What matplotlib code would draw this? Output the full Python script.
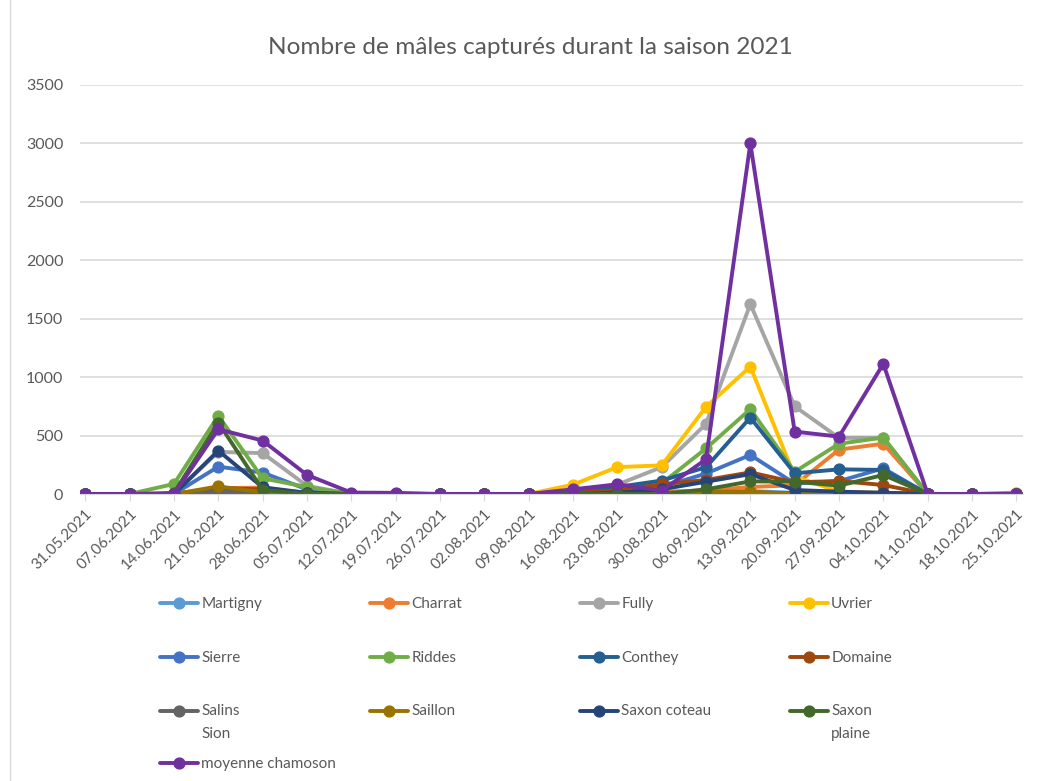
import numpy as np
import matplotlib
matplotlib.use('Agg')
import matplotlib.pyplot as plt

plt.rcParams['font.family'] = ['Lato', 'DejaVu Sans']

dates = ['31.05.2021', '07.06.2021', '14.06.2021', '21.06.2021', '28.06.2021', '05.07.2021',
         '12.07.2021', '19.07.2021', '26.07.2021', '02.08.2021', '09.08.2021', '16.08.2021',
         '23.08.2021', '30.08.2021', '06.09.2021', '13.09.2021', '20.09.2021', '27.09.2021',
         '04.10.2021', '11.10.2021', '18.10.2021', '25.10.2021']

martigny = [0, 0, 0, 12, 8, 2, 0, 0, 0, 0, 0, 0, 0, 5, 15, 25, 10, 5, 10, 0, 0, 0]
charrat = [0, 0, 0, 50, 55, 5, 0, 0, 0, 0, 0, 5, 10, 20, 30, 60, 75, 380, 430, 0, 0, 12]
fully = [0, 0, 0, 360, 350, 70, 0, 0, 0, 0, 0, 30, 80, 230, 600, 1625, 750, 480, 480, 0, 0, 0]
uvrier = [0, 0, 0, 0, 0, 0, 0, 0, 0, 0, 0, 80, 230, 245, 745, 1090, 150, 20, 10, 0, 0, 0]
sierre = [0, 0, 0, 234, 183, 40, 0, 0, 0, 0, 0, 5, 20, 60, 175, 334, 90, 110, 220, 0, 0, 0]
riddes = [0, 0, 86, 669, 134, 60, 0, 0, 0, 0, 0, 10, 40, 90, 390, 726, 190, 430, 483, 0, 0, 0]
conthey = [0, 0, 0, 20, 15, 5, 0, 0, 0, 0, 0, 15, 60, 115, 229, 654, 177, 211, 206, 0, 0, 0]
domaine = [0, 0, 0, 50, 40, 5, 0, 0, 0, 0, 0, 10, 30, 83, 120, 185, 100, 111, 77, 0, 0, 0]
salins_sion = [0, 0, 0, 20, 10, 0, 0, 0, 0, 0, 0, 0, 0, 5, 10, 15, 5, 5, 5, 0, 0, 0]
saillon = [0, 0, 0, 65, 15, 2, 0, 0, 0, 0, 0, 0, 0, 10, 20, 20, 0, 10, 5, 0, 0, 0]
saxon_coteau = [0, 0, 0, 371, 57, 10, 0, 0, 0, 0, 0, 0, 10, 40, 105, 170, 34, 20, 11, 0, 0, 0]
saxon_plaine = [0, 0, 10, 611, 34, 0, 0, 0, 0, 0, 0, 0, 0, 0, 40, 108, 106, 71, 163, 0, 0, 0]
chamoson = [0, 0, 0, 554, 457, 163, 12, 10, 0, 0, 0, 40, 83, 29, 297, 3000, 534, 491, 1114, 0, 0, 0]

series = [('Martigny', martigny, '#5B9BD5'),
          ('Charrat', charrat, '#ED7D31'),
          ('Fully', fully, '#A5A5A5'),
          ('Uvrier', uvrier, '#FFC000'),
          ('Sierre', sierre, '#4472C4'),
          ('Riddes', riddes, '#70AD47'),
          ('Conthey', conthey, '#255E91'),
          ('Domaine', domaine, '#9E480E'),
          ('Salins\nSion', salins_sion, '#636363'),
          ('Saillon', saillon, '#997300'),
          ('Saxon coteau', saxon_coteau, '#264478'),
          ('Saxon\nplaine', saxon_plaine, '#43682B'),
          ('moyenne chamoson', chamoson, '#7030A0')]

W, H = 1041, 781
fig = plt.figure(figsize=(W / 100, H / 100), dpi=100)
ax = fig.add_axes([80 / W, 1 - 494 / H, (1023 - 80) / W, (494 - 85) / H])

x = np.arange(len(dates))
handles = []
for name, vals, col in series:
    h, = ax.plot(x, vals, color=col, lw=2.8, marker='o', ms=7.8, label=name,
                 solid_joinstyle='round', solid_capstyle='round')
    handles.append(h)

ax.set_ylim(0, 3500)
ax.set_yticks(np.arange(0, 3501, 500))
ax.set_xlim(-0.12, len(dates) - 1 + 0.15)
ax.set_xticks(x)
ax.set_xticklabels(dates, rotation=45, ha='right', va='top', rotation_mode='anchor')
ax.tick_params(axis='y', length=0, pad=12, labelsize=11.5, labelcolor='#595959')
ax.tick_params(axis='x', length=5, color='#D9D9D9', pad=4, labelsize=11, labelcolor='#595959')
ax.grid(axis='y', color='#D9D9D9', lw=1.2)
ax.set_axisbelow(True)
for s in ['top', 'right', 'left']:
    ax.spines[s].set_visible(False)
ax.spines['bottom'].set_color('#D9D9D9')

fig.text(530 / W, 1 - 47 / H, 'Nombre de mâles capturés durant la saison 2021',
         ha='center', va='center', fontsize=17.6, color='#595959')

# bordure gauche de la zone graphique
fig.add_artist(plt.Line2D([10 / W, 10 / W], [0, 1], color='#D9D9D9', lw=1, transform=fig.transFigure))

# légende: 4 colonnes + moyenne chamoson sur une ligne à part
cols = [[0, 4, 8], [1, 5, 9], [2, 6, 10], [3, 7, 11], [12]]
xs = [160, 370, 580, 790, 160]
ys = [597, 597, 597, 597, 757]
for idx, xp, yp in zip(cols, xs, ys):
    leg = fig.legend([handles[i] for i in idx], [series[i][0] for i in idx],
                     loc='upper left', bbox_to_anchor=(xp / W, 1 - yp / H),
                     frameon=False, fontsize=11, labelspacing=2.48, handlelength=2.5,
                     handletextpad=0.2, handleheight=1.2, borderpad=0, borderaxespad=0,
                     labelcolor='#595959')
    for t in leg.get_texts():
        t.set_linespacing(1.85)
    for column in leg._legend_handle_box.get_children():
        for item in column.get_children():
            item.align = 'top'

fig.savefig('out.png', dpi=100)
